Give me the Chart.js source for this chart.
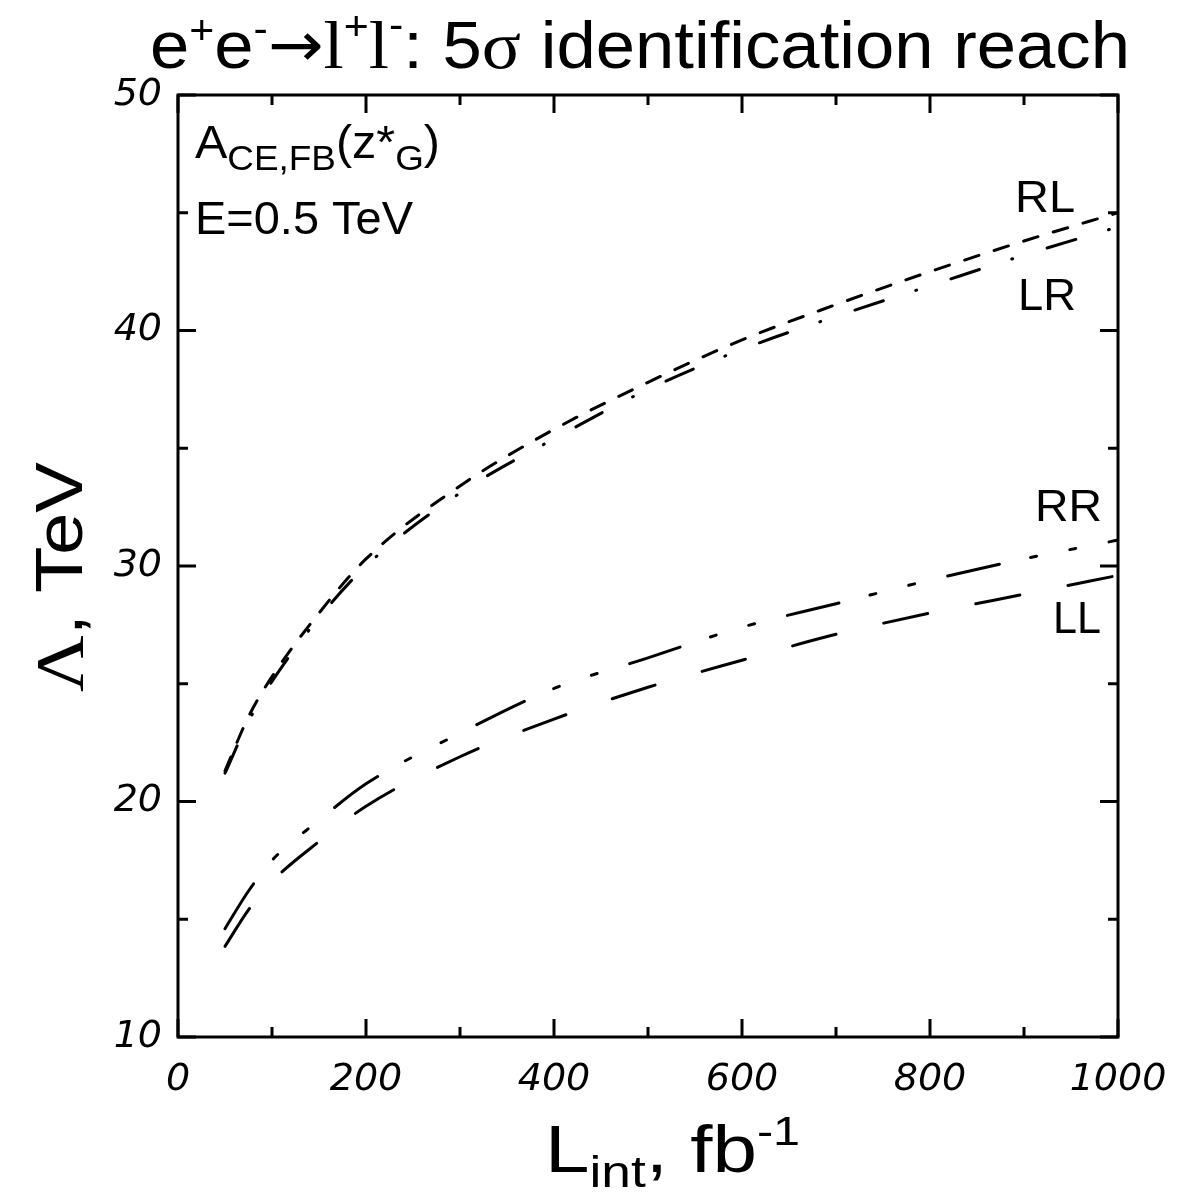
<!DOCTYPE html>
<html>
<head>
<meta charset="utf-8">
<script src="https://cdn.jsdelivr.net/npm/chart.js@4.4.1/dist/chart.umd.min.js"></script>
<style>
  html, body { margin: 0; padding: 0; background: #fff; }
  #wrap { width: 1180px; height: 1203px; position: relative; }
</style>
</head>
<body>
<div id="wrap"><canvas id="myChart"></canvas></div>
<script>
// luminosity points (fb^-1)
var lumi = [50, 75, 100, 150, 200, 300, 400, 500, 600, 700, 800, 900, 1000]
// reach in TeV for each helicity model
var reachRL = [21.3, 23.6, 25.3, 28.0, 30.3, 33.4, 35.8, 37.8, 39.6, 41.1, 42.5, 43.8, 45.0]
var reachLR = [21.2, 23.4, 25.1, 27.8, 30.0, 33.1, 35.4, 37.5, 39.2, 40.6, 41.9, 43.2, 44.4]
var reachRR = [14.6, 16.2, 17.5, 19.2, 20.75, 22.9, 24.8, 26.1, 27.4, 28.4, 29.4, 30.3, 31.1]
var reachLL = [13.85, 15.4, 16.6, 18.3, 19.8, 21.9, 23.5, 24.85, 26.0, 27.1, 28.0, 28.8, 29.6]
var xTicks = [0, 200, 400, 600, 800, 1000]
var yTicks = [10, 20, 30, 40, 50]

var SANS = '"Liberation Sans", Arial, sans-serif'
var SERIF = '"Liberation Serif", "Times New Roman", serif'

function toPoints(ys) { //pair lumi with a series
    return lumi.map(function (x, i) { return { x: x, y: ys[i] } })
}

function mkSet(label, ys, dash) {
    return {
        label: label,
        data: toPoints(ys),
        borderColor: '#000',
        borderWidth: 3,
        borderDash: dash,
        borderCapStyle: 'round',
        pointRadius: 0,
        fill: false,
        cubicInterpolationMode: 'monotone'
    }
}

//draw text made of runs (font, text, vertical shift), x is the left edge
//if width is given the whole thing is stretched to that width
function drawRuns(ctx, x, y, runs, width) {
    var w = 0
    runs.forEach(function (r) { ctx.font = r.f; w += ctx.measureText(r.t).width })
    var sx = width ? width / w : 1
    ctx.save()
    ctx.translate(x, y)
    ctx.scale(sx, 1)
    ctx.textBaseline = 'alphabetic'
    ctx.textAlign = 'left'
    var cx = 0
    runs.forEach(function (r) {
        ctx.font = r.f
        ctx.fillText(r.t, cx, r.dy || 0)
        cx += ctx.measureText(r.t).width
    })
    ctx.restore()
}

var decorPlugin = {
    id: 'decor',
    afterDraw: function (chart) {
        var ctx = chart.ctx
        var a = chart.chartArea
        var xs = chart.scales.x, ys = chart.scales.y
        ctx.save()
        ctx.fillStyle = '#000'
        ctx.strokeStyle = '#000'
        ctx.lineWidth = 3
        ctx.lineCap = 'butt'
        // frame
        ctx.strokeRect(a.left, a.top, a.right - a.left, a.bottom - a.top)
        // inward ticks on all sides
        for (var v = 0; v <= 1000; v += 100) {
            var px = xs.getPixelForValue(v)
            var len = (v % 200 == 0) ? 18 : 10
            ctx.beginPath()
            ctx.moveTo(px, a.bottom); ctx.lineTo(px, a.bottom - len)
            ctx.moveTo(px, a.top); ctx.lineTo(px, a.top + len)
            ctx.stroke()
        }
        for (var t = 10; t <= 50; t += 5) {
            var py = ys.getPixelForValue(t)
            var l2 = (t % 10 == 0) ? 18 : 10
            ctx.beginPath()
            ctx.moveTo(a.left, py); ctx.lineTo(a.left + l2, py)
            ctx.moveTo(a.right, py); ctx.lineTo(a.right - l2, py)
            ctx.stroke()
        }

        // title
        var big = '66px ' + SANS, sup = '40px ' + SANS, ser = '68px ' + SERIF
        drawRuns(ctx, 150, 68, [
            { t: 'e', f: big }, { t: '+', f: sup, dy: -24 },
            { t: 'e', f: big }, { t: '-', f: sup, dy: -26 },
            { t: '\u2192', f: '62px "DejaVu Sans", sans-serif', dy: -2 },
            { t: 'l', f: ser }, { t: '+', f: sup, dy: -28 },
            { t: 'l', f: ser }, { t: '-', f: sup, dy: -30 },
            { t: ': 5', f: big }, { t: '\u03c3', f: ser },
            { t: ' identification reach', f: big }
        ], 980)

        // x axis title
        drawRuns(ctx, 545, 1172, [
            { t: 'L', f: '66px ' + SANS }, { t: 'int', f: '44px ' + SANS, dy: 15 },
            { t: ', fb', f: '66px ' + SANS }, { t: '-1', f: '40px ' + SANS, dy: -27 }
        ], 255)

        // y axis title
        ctx.save()
        ctx.translate(82, 692)
        ctx.rotate(-Math.PI / 2)
        drawRuns(ctx, 0, 0, [
            { t: '\u039b', f: '68px ' + SERIF }, { t: ', TeV', f: '66px ' + SANS }
        ], 230)
        ctx.restore()

        // annotations in the plot
        var n = '46px ' + SANS, s = '35px ' + SANS
        drawRuns(ctx, 195, 158, [
            { t: 'A', f: n }, { t: 'CE,FB', f: s, dy: 12 },
            { t: '(z*', f: n }, { t: 'G', f: s, dy: 12 }, { t: ')', f: n }
        ], 245)
        drawRuns(ctx, 195, 234, [{ t: 'E=0.5 TeV', f: n }], 218)
        var lf = '44px ' + SANS
        drawRuns(ctx, 1015, 212, [{ t: 'RL', f: lf }], 60)
        drawRuns(ctx, 1018, 310, [{ t: 'LR', f: lf }], 58)
        drawRuns(ctx, 1035, 521, [{ t: 'RR', f: lf }], 67)
        drawRuns(ctx, 1053, 633, [{ t: 'LL', f: lf }], 48)
        ctx.restore()
    }
}

var tickFont = { family: '"DejaVu Sans", sans-serif', size: 38, style: 'italic' }

var ctx = document.getElementById('myChart')
var myChart = new Chart(ctx, {
    type: 'line',
    data: {
        datasets: [
            mkSet('RL', reachRL, [15, 16]),
            mkSet('LR', reachLR, [30, 34, 1, 36]),
            mkSet('RR', reachRR, [53, 32, 6, 34, 6, 34]),
            mkSet('LL', reachLL, [45, 49])
        ]
    },
    options: {
        responsive: true,
        maintainAspectRatio: false,
        animation: false,
        devicePixelRatio: 1,
        layout: { padding: { top: 95, right: 62, left: 0, bottom: 0 } },
        plugins: {
            legend: { display: false },
            tooltip: { enabled: false }
        },
        scales: {
            x: {
                type: 'linear', min: 0, max: 1000,
                afterFit: function (sc) {
                    sc.height = 166
                    sc.paddingLeft = 0  //keep the plot edge where the picture has it
                    sc.paddingRight = 0
                },
                afterBuildTicks: function (sc) { sc.ticks = xTicks.map(function (v) { return { value: v } }) },
                grid: { display: false, drawTicks: false },
                border: { display: false },
                ticks: { color: '#000', font: tickFont, padding: 20, maxRotation: 0,
                    callback: function (v) { return String(v) } }
            },
            y: {
                type: 'linear', min: 10, max: 50,
                afterFit: function (sc) {
                    sc.width = 178
                    sc.paddingTop = 0
                    sc.paddingBottom = 0
                },
                afterBuildTicks: function (sc) { sc.ticks = yTicks.map(function (v) { return { value: v } }) },
                grid: { display: false, drawTicks: false },
                border: { display: false },
                ticks: { color: '#000', font: tickFont, padding: 16,
                    callback: function (v) { return String(v) } }
            }
        }
    },
    plugins: [decorPlugin]
})
</script>
</body>
</html>
